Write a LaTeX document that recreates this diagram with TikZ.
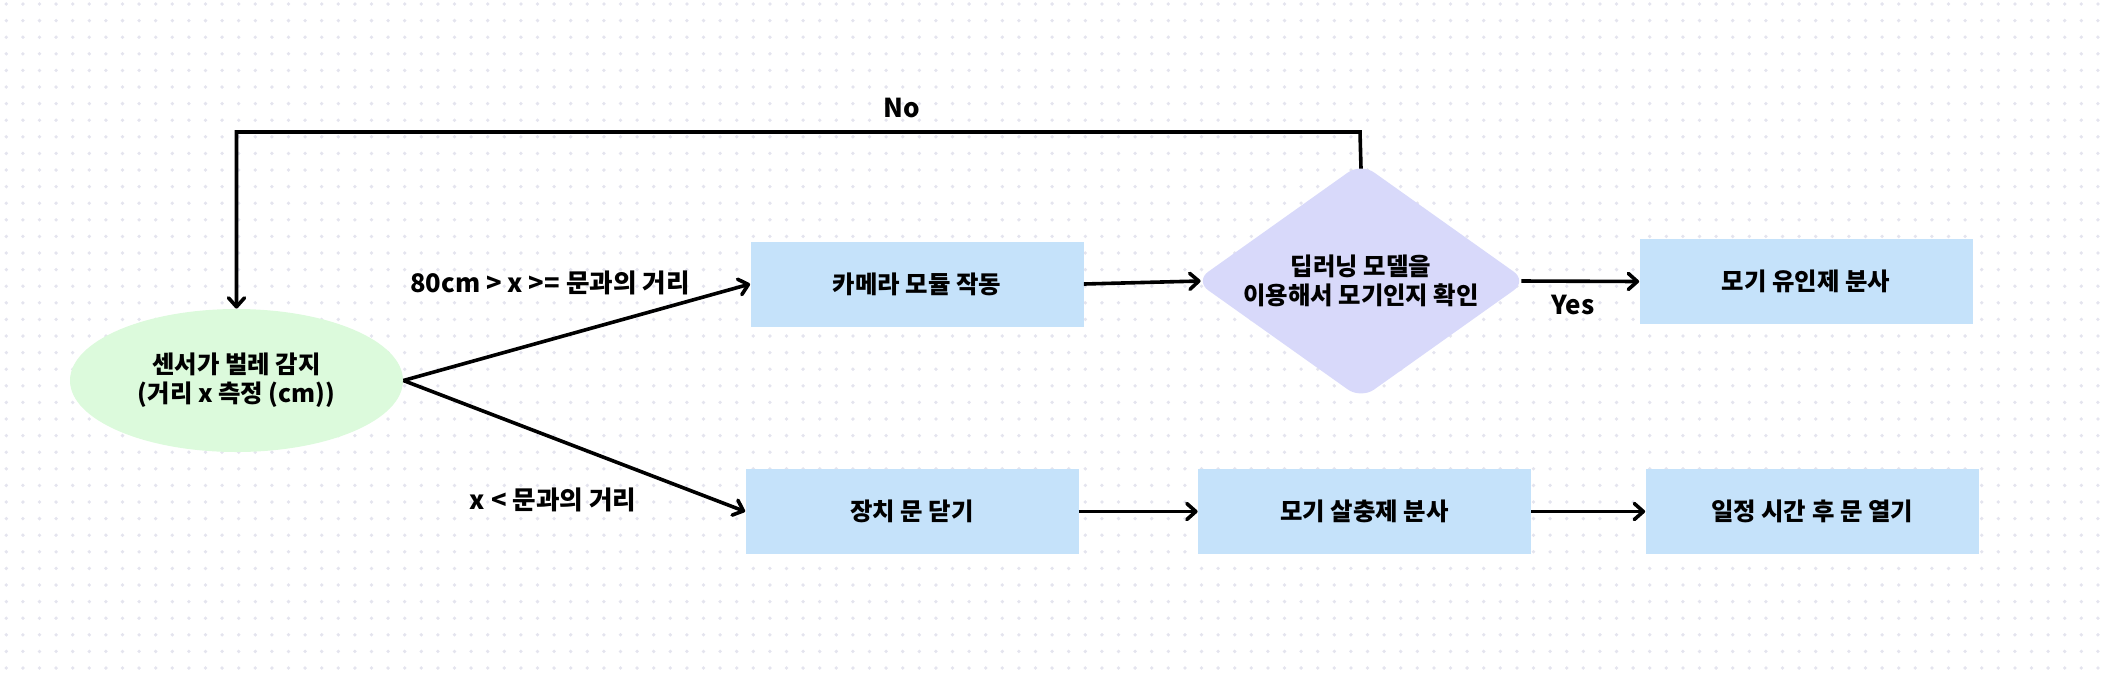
\documentclass[tikz,border=0pt]{standalone}
\usepackage{fontspec}
\setmainfont{Noto Sans CJK KR}
\usetikzlibrary{shapes.geometric,arrows.meta,positioning}
\definecolor{boxblue}{RGB}{197,226,250}
\definecolor{ellgreen}{RGB}{220,250,220}
\definecolor{diapurple}{RGB}{216,217,250}
\definecolor{dotgray}{RGB}{228,228,238}

\begin{document}
\begin{tikzpicture}[x=0.5pt,y=-0.5pt]
    % Define styles for nodes and edges
    \tikzstyle{txt}=[font=\fontsize{12.2}{14.5}\selectfont\bfseries]
    \tikzstyle{stepbox}=[txt,rectangle,fill=boxblue,minimum width=166.5pt,minimum height=42.5pt,inner sep=0pt]
    \tikzstyle{sensor}=[txt,ellipse,fill=ellgreen,minimum width=166.5pt,minimum height=71.5pt,inner sep=0pt,align=center]
    \tikzstyle{decision}=[txt,diamond,aspect=1.4,fill=diapurple,minimum width=166pt,minimum height=118pt,inner sep=0pt,rounded corners=8pt,align=center]
    \tikzstyle{lbl}=[font=\fontsize{12.8}{15}\selectfont\bfseries,inner sep=0pt]
    \tikzstyle{flow}=[line width=1.8pt,-{Straight Barb[length=4.5pt,width=8pt,round]}]

    \useasboundingbox (0,0) rectangle (2104,676);
    % Dotted background
    \foreach \i in {0,...,126}{
        \foreach \j in {0,...,40}{
            \fill[dotgray] (6.3+16.6*\i,4+16.6*\j) circle (0.95pt);
        }
    }

    % Start: sensor
    \node[sensor] (sense) at (236.5,380.5) {센서가 벌레 감지\\(거리 x 측정 (cm))};

    % Upper branch
    \node[stepbox] (cam) at (917,284) {카메라 모듈 작동};
    \node[decision] (dec) at (1361,281) {딥러닝 모델을\\이용해서 모기인지 확인};
    \node[stepbox] (lure) at (1806,281.5) {모기 유인제 분사};

    % Lower branch
    \node[stepbox] (door) at (912,511.5) {장치 문 닫기};
    \node[stepbox] (spray) at (1364.5,511.5) {모기 살충제 분사};
    \node[stepbox] (open) at (1812,511.5) {일정 시간 후 문 열기};

    % Edge labels
    \node[lbl] (lblFar) at (550,283) {80cm > x >= 문과의 거리};
    \node[lbl] (lblNear) at (553,500) {x < 문과의 거리};
    \node[lbl,font=\fontsize{13}{15}\selectfont\bfseries] (lblNo) at (902,108) {No};
    \node[lbl,font=\fontsize{13}{15}\selectfont\bfseries] (lblYes) at (1573,305) {Yes};

    % Connectors
    \draw[flow] (sense.east) -- (cam.west);
    \draw[flow] (sense.east) -- (door.west);
    \draw[flow] (cam.east) -- ([xshift=3pt]dec.west);
    \draw[flow] ([xshift=-3pt]dec.east) -- (lure.west);
    \draw[flow] (door.east) -- (spray.west);
    \draw[flow] (spray.east) -- (open.west);
    % Back to the sensor
    \coordinate (noCorner) at (1360,132);
    \draw[flow] ([yshift=-3pt]dec.north) -- (noCorner) -| (sense.north);
\end{tikzpicture}
\end{document}
